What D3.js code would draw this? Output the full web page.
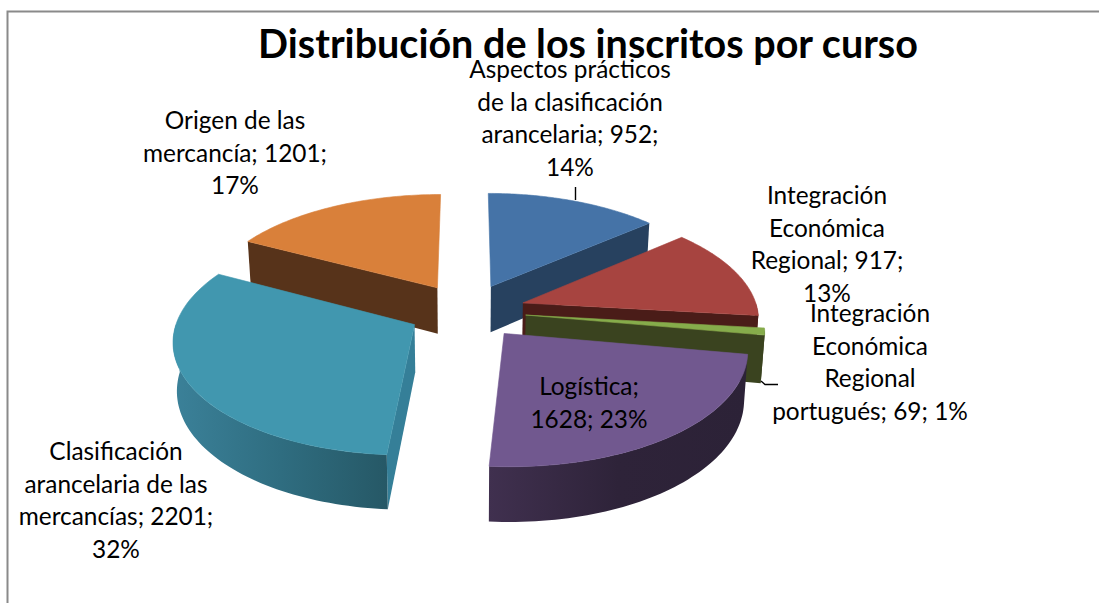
<!DOCTYPE html>
<html>
<head>
<meta charset="utf-8">
<script src="https://cdn.jsdelivr.net/npm/d3@7"></script>
<style>
body { margin: 0; background: #fff; }
svg { display: block; }
text { font-family: Lato, "Open Sans", sans-serif; fill: #000; }
</style>
</head>
<body>
<svg width="1099" height="603"></svg>
<script>
// data
var cursos = ["Aspectos prácticos de la clasificación arancelaria", "Integración Económica Regional",
	"Integración Económica Regional portugués", "Logística",
	"Clasificación arancelaria de las mercancías", "Origen de las mercancía"];
var inscritos = [952, 917, 69, 1628, 2201, 1201];
var etiquetas = [
	["Aspectos prácticos", "de la clasificación", "arancelaria; 952;", "14%"],
	["Integración", "Económica", "Regional; 917;", "13%"],
	["Integración", "Económica", "Regional", "portugués; 69; 1%"],
	["Logística;", "1628; 23%"],
	["Clasificación", "arancelaria de las", "mercancías; 2201;", "32%"],
	["Origen de las", "mercancía; 1201;", "17%"]
];
var titulo = "Distribución de los inscritos por curso";

// styles
var colorTop = ["#4573a7", "#a74440", "#86ac4b", "#71588f", "#4197af", "#d9803a"];
var colorSide = ["#27415f", "#4a1c18", "#3a431f", "#2e2339", "#357f98", "#57331a"];
var wallGrad = [null, null, null, ["#40304f", "#2e2339", "#2c2237"], ["#3b8199", "#2f6d80", "#265866"], null];
var labelX = [570, 827, 870, 589, 116, 235];
var labelY = [78, 204, 322, 395, 460, 129];
var lineH = 32.7;

var svg = d3.select("svg");
var defs = svg.append("defs");

// fake 3d view: pie lies on a tilted plane, far side gets smaller
var cx = 467, cy = 311, R = 235, explode = 59, thick = 47, tilt = 0.47, persp = 0.000533, shrink = 0.00028;

function project(u, v, z) {
	var w = 1 + v * persp;
	return [cx + u / w * (1 - z * shrink), cy - v * tilt / w + z / w];
}

var pie = d3.pie().sort(null);
var slices = pie(inscritos);
var line = d3.line();

// painter order, back to front
var order = [5, 0, 1, 2, 3, 4];

order.forEach(function(i) {
	var d = slices[i];
	var mid = (d.startAngle + d.endAngle) / 2;
	var ax = explode * Math.sin(mid), ay = explode * Math.cos(mid);
	var g = svg.append("g").attr("class", "slice");

	function rim(a, z) {
		return project(ax + R * Math.sin(a), ay + R * Math.cos(a), z);
	}
	function arcPts(a0, a1, z) {
		return d3.range(0, 61).map(function(k) { return rim(a0 + (a1 - a0) * k / 60, z); });
	}
	function radial(a) {
		return [project(ax, ay, 0), rim(a, 0), rim(a, thick), project(ax, ay, thick)];
	}

	// radial walls that face the viewer
	if (Math.sin(d.startAngle) < -0.001) {
		g.append("path").attr("d", line(radial(d.startAngle)) + "Z").attr("fill", colorSide[i]);
	}
	if (Math.sin(d.endAngle) > 0.001) {
		g.append("path").attr("d", line(radial(d.endAngle)) + "Z").attr("fill", colorSide[i]);
	}

	// outer wall, only the front half of the circle shows
	var a0 = Math.max(d.startAngle, Math.PI / 2), a1 = Math.min(d.endAngle, Math.PI * 1.5);
	if (a1 > a0) {
		var fill = colorSide[i];
		if (wallGrad[i]) {
			var gr = defs.append("linearGradient").attr("id", "wall" + i);
			wallGrad[i].forEach(function(c, k) {
				gr.append("stop").attr("offset", k / 2).attr("stop-color", c);
			});
			fill = "url(#wall" + i + ")";
		}
		var pts = arcPts(a0, a1, 0).concat(arcPts(a1, a0, thick));
		g.append("path").attr("d", line(pts) + "Z").attr("fill", fill);
	}

	// top face
	var top = [project(ax, ay, 0)].concat(arcPts(d.startAngle, d.endAngle, 0));
	g.append("path").attr("d", line(top) + "Z")
		.attr("fill", colorTop[i])
		.attr("stroke", colorTop[i])
		.attr("stroke-width", 0.6);
});

// frame, only top and left show
svg.append("path")
	.attr("d", "M7.5,603V11.5H1099")
	.attr("fill", "none")
	.attr("stroke", "#8a8a8a")
	.attr("stroke-width", 2);

// leader lines
svg.append("path").attr("d", "M575.5,187V200").attr("fill", "none").attr("stroke", "#000").attr("stroke-width", 1.4);
svg.append("path").attr("d", "M761,381L765,384.5H778").attr("fill", "none").attr("stroke", "#000").attr("stroke-width", 1.4);

svg.append("text")
	.attr("x", 588)
	.attr("y", 58)
	.attr("text-anchor", "middle")
	.style("font-size", "39.5px")
	.style("font-weight", "700")
	.text(titulo);

etiquetas.forEach(function(lines, i) {
	var t = svg.append("text")
		.attr("class", "label")
		.attr("text-anchor", "middle")
		.style("font-size", "24.4px");
	lines.forEach(function(s, k) {
		t.append("tspan")
			.attr("x", labelX[i])
			.attr("y", labelY[i] + k * lineH)
			.text(s);
	});
});
</script>
</body>
</html>
